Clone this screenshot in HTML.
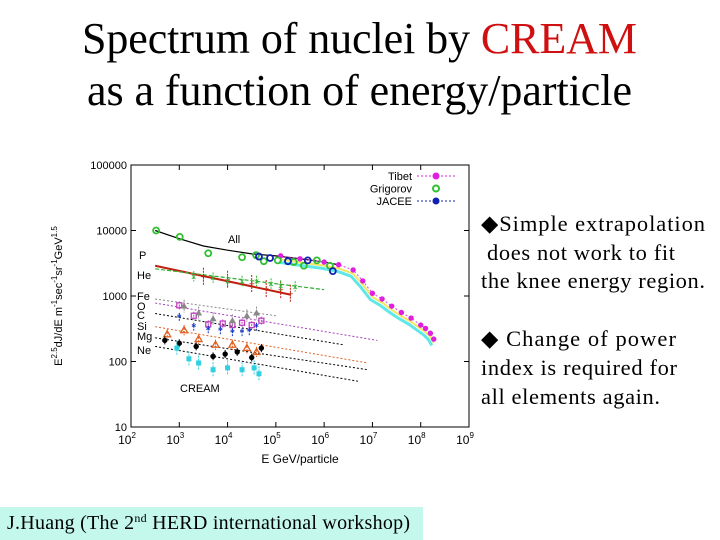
<!DOCTYPE html>
<html><head><meta charset="utf-8"><style>
body{margin:0;background:#fff;}
svg{display:block;}
</style></head><body>
<svg id="s" width="720" height="540" viewBox="0 0 720 540" xmlns="http://www.w3.org/2000/svg">
<text x="82" y="53" font-family="Liberation Serif, serif" font-size="44" textLength="555">Spectrum of nuclei by <tspan fill="#d01010">CREAM</tspan></text>
<text x="87" y="105" font-family="Liberation Serif, serif" font-size="44" textLength="545">as a function of energy/particle</text>
<g font-family="Liberation Serif, serif" font-size="22.5">
<text x="481" y="231" textLength="224">◆Simple extrapolation</text>
<text x="487" y="260" textLength="188">does not work to fit</text>
<text x="481" y="288" textLength="224">the knee energy region.</text>
<text x="481" y="346" textLength="195">◆ Change of power</text>
<text x="481" y="375" textLength="196">index is required for</text>
<text x="481" y="404" textLength="179">all elements again.</text>
</g>
<rect x="0" y="507" width="423" height="33" fill="#c4f8ec"/>
<text x="7" y="529" font-family="Liberation Serif, serif" font-size="20" textLength="403">J.Huang (The  2<tspan font-size="12" dy="-7">nd</tspan><tspan dy="7"> HERD international workshop)</tspan></text>
<g id="chart"></g>
</svg>
<script>
const xTickExps=[2,3,4,5,6,7,8,9];
const yTickLabels=["10","100","1000","10000","100000"];
const allLine=[[2.5,10000],[3,7500],[3.5,5800],[4,5000],[4.5,4400],[5,4100],[5.5,3700],[6,3300],[6.3,3000]];
const grigorov=[[2.52,10000],[3.01,8000],[3.6,4500],[4.3,3900],[4.59,4200],[4.75,3400],[5.04,3500],[5.37,3300],[5.58,2900],[5.85,3500],[6.12,2900]];
const jacee=[[4.65,4000],[4.88,3800],[5.25,3400],[5.66,3500],[6.18,2400]];
const tibet=[[5.1,4100],[5.5,3700],[6,3300],[6.3,3000],[6.6,2500],[6.8,1700],[7,1100],[7.2,900],[7.4,700],[7.6,560],[7.8,460],[8,360],[8.1,320],[8.2,270],[8.27,220]];
const pLine=[[2.5,2900],[5.3,1050]];
const heLine=[[2.5,2600],[6,1250]];
const pData=[[3.5,2000],[4,1800],[4.5,1550],[4.8,1300],[5.1,1250],[5.3,1100]];
const heData=[[3.3,2000],[3.7,1900],[4,1700],[4.3,1700],[4.6,1700],[4.9,1550],[5.1,1450],[5.4,1400]];
const feLine=[[2.5,780],[7.1,210]];
const oLine=[[2.5,900],[5,500]];
const cLine=[[2.5,540],[6.4,180]];
const siLine=[[2.5,340],[6.9,95]];
const mgLine=[[2.5,230],[6.9,75]];
const neLine=[[2.5,170],[6.7,50]];
const feData=[[3,720],[3.3,500],[3.6,370],[3.9,380],[4.1,360],[4.3,390],[4.5,360],[4.7,420]];
const oData=[[3.1,700],[3.4,550],[3.7,450],[4.1,420],[4.4,500],[4.6,550]];
const cData=[[3,480],[3.3,340],[3.6,310],[3.85,300],[4.1,280],[4.3,280],[4.45,290],[4.6,340]];
const siData=[[2.75,260],[3.1,300],[3.4,220],[3.75,180],[4.1,180],[4.4,160],[4.6,140]];
const mgData=[[2.7,210],[3,190],[3.35,170],[3.7,120],[3.95,130],[4.2,140],[4.5,115],[4.7,160]];
const neData=[[2.95,160],[3.2,110],[3.4,95],[3.7,75],[4,80],[4.3,75],[4.55,80],[4.65,65]];

const X0=131,X1=469,Y0=427,Y1=165;
function X(le){return X0+(le-2)*(X1-X0)/7;}
function Y(v){return Y0-(Math.log10(v)-1)*(Y0-Y1)/4;}
const NS="http://www.w3.org/2000/svg";
const g=document.getElementById('chart');
function mk(t,a,parent){const e=document.createElementNS(NS,t);for(const k in a)e.setAttribute(k,a[k]);(parent||g).appendChild(e);return e;}

let fr=mk('rect',{x:X0,y:Y1,width:X1-X0,height:Y0-Y1,fill:'none',stroke:'#000','stroke-width':1});


xTickExps.forEach(e=>{
  const x=X(e);
  const t=mk('line',{x1:x,x2:x,y1:Y0,y2:Y0-5,stroke:'#000'});
  
  
  mk('line',{x1:x,x2:x,y1:Y1,y2:Y1+5,stroke:'#000'});
  const tx=mk('text',{x:x-4,y:Y0+17,'font-family':'Liberation Sans, sans-serif','font-size':12,'text-anchor':'middle'});
  tx.textContent='10';
  const sp=mk('tspan',{dy:-6,'font-size':8},tx);sp.textContent=e;
  
  
});
yTickLabels.forEach(l=>{
  const y=Y(+l);
  const t=mk('line',{x1:X0,x2:X0+5,y1:y,y2:y,stroke:'#000'});
  
  
  mk('line',{x1:X1,x2:X1-5,y1:y,y2:y,stroke:'#000'});
  const tx=mk('text',{x:X0-4,y:y+4,'font-family':'Liberation Sans, sans-serif','font-size':11,'text-anchor':'end'});
  tx.textContent=l;
  
  
});
let xt=mk('text',{x:300,y:463,'font-family':'Liberation Sans, sans-serif','font-size':12,'text-anchor':'middle'});
xt.textContent='E GeV/particle';


let yt=mk('text',{transform:'translate(62,296) rotate(-90)','font-family':'Liberation Sans, sans-serif','font-size':11,'text-anchor':'middle'});
yt.innerHTML='E<tspan dy="-5" font-size="8">2.5</tspan><tspan dy="5">dJ/dE m</tspan><tspan dy="-5" font-size="8">-1</tspan><tspan dy="5">sec</tspan><tspan dy="-5" font-size="8">-1</tspan><tspan dy="5">sr</tspan><tspan dy="-5" font-size="8">-1</tspan><tspan dy="5">GeV</tspan><tspan dy="-5" font-size="8">1.5</tspan>';



function line(data,color,dash,w,name){
  const p=mk('polyline',{points:data.map(d=>X(d[0])+','+Y(d[1])).join(' '),fill:'none',stroke:color,'stroke-width':w||1,'stroke-dasharray':dash||''});
  
  
}
function pts(data,color,shape,name,err){
  data.forEach(d=>{
    const x=X(d[0]),y=Y(d[1]);
    if(err){mk('line',{x1:x,x2:x,y1:Y(d[1]*err),y2:Y(d[1]/err),stroke:color,'stroke-width':1,'stroke-dasharray':'2,1'});}
    let m;
    if(shape==='ring')m=mk('circle',{cx:x,cy:y,r:3,fill:'none',stroke:color,'stroke-width':1.8});
    else if(shape==='dot')m=mk('circle',{cx:x,cy:y,r:2.7,fill:color});
    else if(shape==='sq')m=mk('rect',{x:x-2.5,y:y-2.5,width:5,height:5,fill:'none',stroke:color,'stroke-width':1.3});
    else if(shape==='fsq')m=mk('rect',{x:x-2.5,y:y-2.5,width:5,height:5,fill:color});
    else if(shape==='tri')m=mk('polygon',{points:`${x},${y-3.5} ${x-3.5},${y+2.5} ${x+3.5},${y+2.5}`,fill:'none',stroke:color,'stroke-width':1.3});
    else if(shape==='ftri')m=mk('polygon',{points:`${x},${y-3.5} ${x-3.5},${y+2.5} ${x+3.5},${y+2.5}`,fill:color});
    else m=mk('text',{x:x,y:y+4,'font-size':10,'text-anchor':'middle',fill:color,'font-weight':'bold'}),m.textContent=shape;
    
    
  });
}
line(tibet.map(d=>[d[0]-0.04,d[1]*0.8]),'#60e8e8','',3,'tibet-cyan-band');
line(tibet.map(d=>[d[0],d[1]*0.88]),'#f0e860','',2,'tibet-yellow-band');
line(allLine,'#000','',1.2,'all-line');
line(pLine,'#c02010','',2,'p-line');
line(heLine,'#30b030','4,2',1.2,'he-line');
line(feLine,'#a040c0','2,2',1,'fe-line');
line(oLine,'#888','2,2',1,'o-line');
line(cLine,'#000','2,2',1,'c-line');
line(siLine,'#e06020','2,2',1,'si-line');
line(mgLine,'#000','2,2',1,'mg-line');
line(neLine,'#000','2,2',1,'ne-line');
line(tibet,'#e040e0','2,2',1,'tibet-line');
pts(tibet,'#e020e0','dot','tibet-point');
pts(grigorov,'#30c030','ring','grigorov-point');
pts(jacee,'#1020b0','ring','jacee-point');
pts(pData,'#c02010','+','p-point',1.35);
pts(heData,'#30b030','×','he-point',1.2);
pts(feData,'#c040c0','sq','fe-point',1.15);
pts(oData,'#888','ftri','o-point',1.25);
pts(cData,'#1030c0','*','c-point',1.15);
pts(siData,'#e06020','tri','si-point',1.2);
pts(mgData,'#000','dot','mg-point',1.15);
pts(neData,'#30d0e0','fsq','ne-point',1.3);

const labNames=["P","He","Fe","O","C","Si","Mg","Ne","All","CREAM"];
const labPos=[[139,259],[137,279],[137,300],[137,310],[137,319],[137,330],[137,340],[137,354],[228,243],[180,392]];
labNames.forEach((n,i)=>{
  const t=mk('text',{x:labPos[i][0],y:labPos[i][1],'font-family':'Liberation Sans, sans-serif','font-size':11});
  t.textContent=n;
  
  
});
const legNames=["Tibet","Grigorov","JACEE"];
const legColors=["#e020e0","#30c030","#1020b0"];
legNames.forEach((n,i)=>{
  const y=176+i*12.5;
  const t=mk('text',{x:412,y:y+4,'font-family':'Liberation Sans, sans-serif','font-size':11,'text-anchor':'end'});
  t.textContent=n;
  
  
  if(i!==1)mk('line',{x1:417,x2:455,y1:y,y2:y,stroke:legColors[i],'stroke-dasharray':'2,2'});
  if(i===1)mk('circle',{cx:436,cy:y,r:3,fill:'none',stroke:legColors[i],'stroke-width':2});
  else mk('circle',{cx:436,cy:y,r:3.5,fill:legColors[i]});
});
</script>
</body></html>
